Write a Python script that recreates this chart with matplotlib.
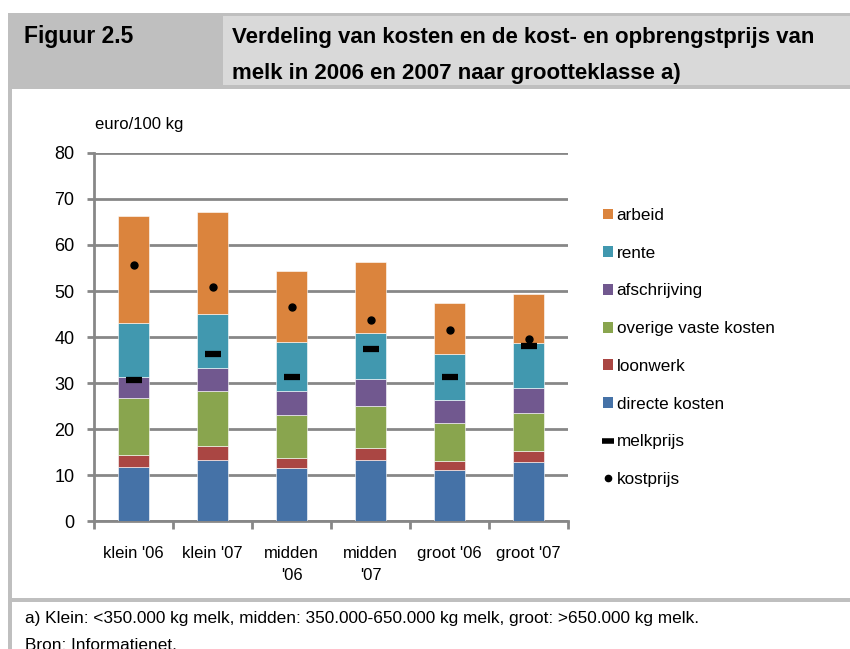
import matplotlib.pyplot as plt
from matplotlib.patches import Rectangle, Patch
from matplotlib.lines import Line2D
import numpy as np

plt.rcParams['font.family'] = ['Liberation Sans', 'DejaVu Sans']

groepen = ["klein '06", "klein '07", "midden\n'06", "midden\n'07", "groot '06", "groot '07"]
directe_kosten = [11.8, 13.3, 11.5, 13.3, 11.1, 12.9]
loonwerk = [2.5, 2.9, 2.1, 2.5, 2.0, 2.4]
overige_vaste_kosten = [12.5, 12.1, 9.4, 9.3, 8.3, 8.2]
afschrijving = [4.6, 5.0, 5.3, 5.7, 5.0, 5.5]
rente = [11.6, 11.8, 10.7, 10.0, 10.0, 9.6]
arbeid = [23.2, 22.1, 15.3, 15.4, 11.1, 10.7]
melkprijs = [30.6, 36.2, 31.2, 37.3, 31.2, 38.0]
kostprijs = [55.6, 50.8, 46.6, 43.7, 41.6, 39.5]

lagen = [
    ("directe kosten", directe_kosten, "#4572A7"),
    ("loonwerk", loonwerk, "#AA4643"),
    ("overige vaste kosten", overige_vaste_kosten, "#89A54E"),
    ("afschrijving", afschrijving, "#71588F"),
    ("rente", rente, "#4198AF"),
    ("arbeid", arbeid, "#DB843D"),
]

W, H = 850, 649
fig = plt.figure(figsize=(8.5, 6.49), dpi=100)

# kader en kop
grijs = "#BFBFBF"
fig.patches.append(Rectangle((8 / W, 1 - 89 / H), 842 / W, 76 / H, transform=fig.transFigure,
                             facecolor=grijs, edgecolor="none", zorder=0))
fig.patches.append(Rectangle((223 / W, 1 - 85 / H), 627 / W, 69 / H, transform=fig.transFigure,
                             facecolor="#D9D9D9", edgecolor="none", zorder=0))
fig.patches.append(Rectangle((8 / W, 0), 4 / W, 1 - 13 / H, transform=fig.transFigure,
                             facecolor=grijs, edgecolor="none", zorder=0))
fig.patches.append(Rectangle((8 / W, 1 - 602 / H), 842 / W, 4 / H, transform=fig.transFigure,
                             facecolor=grijs, edgecolor="none", zorder=0))

fig.text(24 / W, 1 - 37 / H, "Figuur 2.5", fontsize=16.5, fontweight="bold", va="center")
fig.text(232 / W, 1 - 37 / H, "Verdeling van kosten en de kost- en opbrengstprijs van",
         fontsize=16, fontweight="bold", va="center")
fig.text(232 / W, 1 - 73 / H, "melk in 2006 en 2007 naar grootteklasse a)",
         fontsize=16, fontweight="bold", va="center")

fig.text(25 / W, 1 - 618 / H, "a) Klein: <350.000 kg melk, midden: 350.000-650.000 kg melk, groot: >650.000 kg melk.",
         fontsize=12.4, va="center")
fig.text(25 / W, 1 - 645 / H, "Bron: Informatienet.", fontsize=12.4, va="center")

ax = fig.add_axes([94 / W, 1 - 521 / H, 474 / W, 368 / H])
x = np.arange(len(groepen))
onder = np.zeros(len(groepen))
for naam, waarden, kleur in lagen:
    ax.bar(x, waarden, width=0.39, bottom=onder, color=kleur, edgecolor="white",
           linewidth=0.4, zorder=3, label=naam)
    onder += np.array(waarden)

ax.plot(x, melkprijs, linestyle="none", marker="_", markersize=11, markeredgewidth=4.5,
        color="black", zorder=4)
ax.plot(x, kostprijs, linestyle="none", marker="o", markersize=5, color="black", zorder=4)

ax.set_xlim(-0.5, 5.5)
ax.set_ylim(0, 80)
ax.set_yticks(range(0, 81, 10))
ax.yaxis.grid(True, color="#878787", linewidth=2, zorder=0)
ax.set_axisbelow(True)
for s in ["top", "right"]:
    ax.spines[s].set_visible(False)
for s in ["left", "bottom"]:
    ax.spines[s].set_color("#878787")
    ax.spines[s].set_linewidth(2)
ax.tick_params(axis="y", length=5, width=2, color="#878787", labelsize=13, pad=9)

ax.set_xticks(np.arange(-0.5, 6, 1))
ax.set_xticklabels([])
ax.set_xticks(x, minor=True)
ax.set_xticklabels(groepen, minor=True)
ax.tick_params(axis="x", which="major", length=6, width=2, color="#878787")
ax.tick_params(axis="x", which="minor", length=0, labelsize=12, pad=18)
for t in ax.get_xticklabels(minor=True):
    t.set_verticalalignment("top")
    t.set_linespacing(1.55)

fig.text(95 / W, 1 - 124 / H, "euro/100 kg", fontsize=12, va="center")

handles = [Patch(facecolor=k, edgecolor="none") for _, _, k in reversed(lagen)]
labels = [n for n, _, _ in reversed(lagen)]
handles.append(Line2D([], [], linestyle="none", marker="_", markersize=8, markeredgewidth=4, color="black"))
handles.append(Line2D([], [], linestyle="none", marker="o", markersize=4.5, color="black"))
labels += ["melkprijs", "kostprijs"]
fig.legend(handles, labels, loc="upper left", bbox_to_anchor=(603 / W, 1 - 208 / H),
           frameon=False, fontsize=12.3, handlelength=0.6, handleheight=0.6,
           handletextpad=0.2, labelspacing=1.33, borderpad=0, borderaxespad=0)

fig.savefig("out.png", dpi=100)
